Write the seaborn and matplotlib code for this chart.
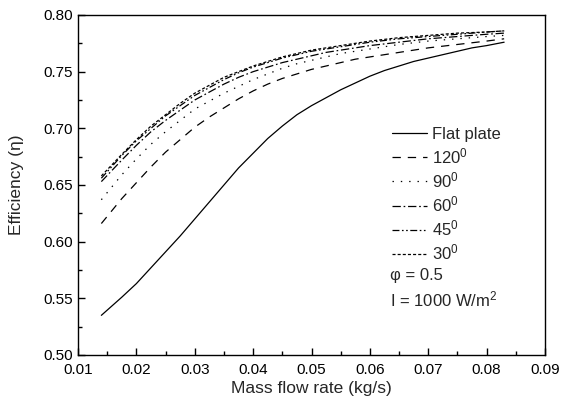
import matplotlib
matplotlib.use("Agg")
import matplotlib.pyplot as plt
import numpy as np
import pandas as pd
import seaborn as sns
from matplotlib.ticker import MultipleLocator, FormatStrFormatter

# mass flow rate (kg/s)
mass_flow = [0.014, 0.0175, 0.020, 0.0225, 0.025, 0.0275, 0.030, 0.0325,
             0.035, 0.0375, 0.040, 0.0425, 0.045, 0.0475, 0.050, 0.0525,
             0.055, 0.0575, 0.060, 0.0625, 0.065, 0.0675, 0.070, 0.0725,
             0.075, 0.0775, 0.080, 0.083]

# efficiency for each absorber shape
eff_flat = [0.535, 0.551, 0.563, 0.577, 0.591, 0.605, 0.620, 0.635,
            0.650, 0.665, 0.678, 0.691, 0.702, 0.712, 0.720, 0.727,
            0.734, 0.740, 0.746, 0.751, 0.755, 0.759, 0.762, 0.765,
            0.768, 0.771, 0.773, 0.776]
eff_120 = [0.616, 0.638, 0.652, 0.666, 0.679, 0.690, 0.701, 0.710,
           0.718, 0.726, 0.733, 0.739, 0.744, 0.748, 0.752, 0.755,
           0.758, 0.761, 0.763, 0.765, 0.767, 0.769, 0.771, 0.7725,
           0.774, 0.7755, 0.777, 0.779]
eff_90 = [0.637, 0.659, 0.673, 0.686, 0.697, 0.707, 0.717, 0.724,
          0.731, 0.737, 0.743, 0.748, 0.753, 0.757, 0.760, 0.763,
          0.766, 0.768, 0.770, 0.772, 0.774, 0.7755, 0.777, 0.778,
          0.779, 0.780, 0.781, 0.782]
eff_60 = [0.653, 0.672, 0.685, 0.697, 0.707, 0.716, 0.725, 0.732,
          0.739, 0.745, 0.750, 0.754, 0.758, 0.761, 0.764, 0.767,
          0.769, 0.771, 0.773, 0.7745, 0.776, 0.7775, 0.779, 0.780,
          0.781, 0.782, 0.783, 0.784]
eff_45 = [0.656, 0.676, 0.689, 0.700, 0.711, 0.720, 0.729, 0.736,
          0.743, 0.749, 0.754, 0.758, 0.762, 0.765, 0.768, 0.770,
          0.772, 0.774, 0.776, 0.7775, 0.779, 0.780, 0.781, 0.782,
          0.783, 0.784, 0.785, 0.786]
eff_30 = [0.658, 0.677, 0.690, 0.702, 0.712, 0.722, 0.731, 0.738,
          0.745, 0.750, 0.755, 0.759, 0.763, 0.766, 0.769, 0.771,
          0.773, 0.775, 0.777, 0.7785, 0.780, 0.781, 0.782, 0.783,
          0.784, 0.7845, 0.785, 0.786]

labels = ["Flat plate", "120$^0$", "90$^0$", "60$^0$", "45$^0$", "30$^0$"]
series = [eff_flat, eff_120, eff_90, eff_60, eff_45, eff_30]
styles = ["-", (0, (6, 5)), (0, (1, 5)), (0, (6, 2, 1.2, 2)),
          (0, (5, 1.8, 1.2, 1.8, 1.2, 1.8)), (0, (2.2, 1.5))]

sns.set_style("ticks")
plt.rcParams["font.family"] = ["Liberation Sans", "DejaVu Sans"]
plt.rcParams["mathtext.fontset"] = "custom"
plt.rcParams["mathtext.rm"] = "Liberation Sans"
plt.rcParams["mathtext.it"] = "Liberation Sans:italic"
plt.rcParams["lines.scale_dashes"] = False

fig = plt.figure(figsize=(5.71, 4.05), dpi=100)
ax = fig.add_axes([78 / 571, 1 - 355 / 405, 467 / 571, 340 / 405])

for lab, eff, ls in zip(labels, series, styles):
    df = pd.DataFrame({"m": mass_flow, "eff": eff})
    sns.lineplot(data=df, x="m", y="eff", color="k", lw=0.9,
                 linestyle=ls, label=lab, ax=ax)

ax.set_xlim(0.01, 0.09)
ax.set_ylim(0.50, 0.80)
ax.xaxis.set_major_locator(MultipleLocator(0.01))
ax.xaxis.set_minor_locator(MultipleLocator(0.005))
ax.yaxis.set_major_locator(MultipleLocator(0.05))
ax.yaxis.set_minor_locator(MultipleLocator(0.025))
ax.xaxis.set_major_formatter(FormatStrFormatter("%.2f"))
ax.yaxis.set_major_formatter(FormatStrFormatter("%.2f"))
ax.tick_params(which="both", direction="in", top=False, right=False,
               labelsize=11, width=1.0, colors="k")
ax.tick_params(which="major", length=5)
ax.tick_params(which="minor", length=3)
ax.tick_params(axis="x", pad=5.5)
for sp in ax.spines.values():
    sp.set_linewidth(1.0)
    sp.set_color("k")

ax.set_xlabel("Mass flow rate (kg/s)", fontsize=12.5, labelpad=3)
ax.set_ylabel("Efficiency (\u03b7)", fontsize=12.5, labelpad=14)

ax.legend(loc="upper left", bbox_to_anchor=(0.672, 0.670), frameon=False,
          fontsize=12, handlelength=2.1, handletextpad=0.3,
          labelspacing=0.25, borderpad=0, borderaxespad=0)

ax.text(0.668, 0.235, "\u03c6 = 0.5", transform=ax.transAxes,
        fontsize=12, va="center", ha="left")
ax.text(0.668, 0.162, "I = 1000 W/m$^2$", transform=ax.transAxes,
        fontsize=12, va="center", ha="left")

fig.savefig("out.png", dpi=100)
